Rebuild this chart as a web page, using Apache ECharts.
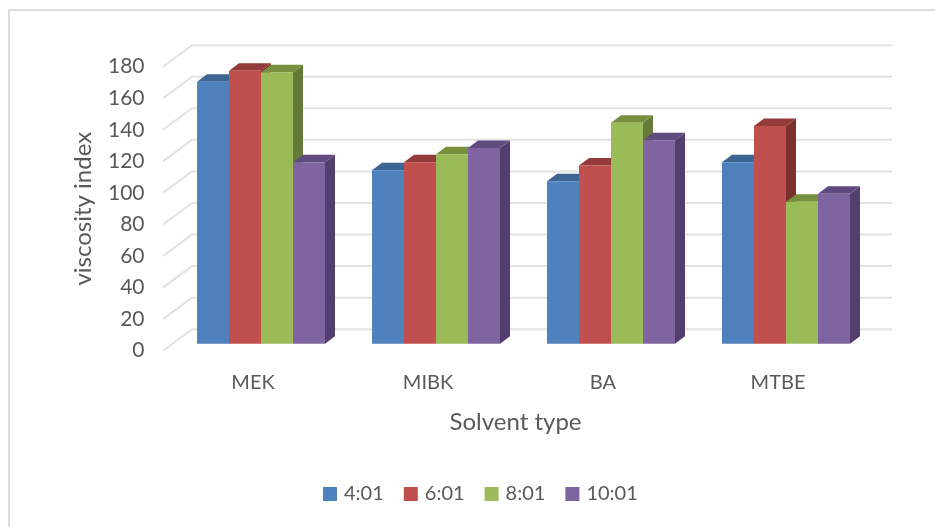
<!DOCTYPE html>
<html>
<head>
<meta charset="utf-8">
<style>html,body{margin:0;padding:0;background:#fff}#chart{width:935px;height:527px}</style>
<script src="https://cdn.jsdelivr.net/npm/echarts@6/dist/echarts.min.js"></script>
</head>
<body>
<div id="chart"></div>
<script>
// Viscosity index by solvent type and solvent-to-oil ratio
const solvents = ['MEK', 'MIBK', 'BA', 'MTBE'];
const ratioNames = ['4:01', '6:01', '8:01', '10:01'];
const ratio4 = [166, 110, 103, 115];
const ratio6 = [173, 115, 113, 138];
const ratio8 = [172, 120, 140, 90];
const ratio10 = [115, 124, 129, 95];
const yTicks = [0, 20, 40, 60, 80, 100, 120, 140, 160, 180];

const seriesValues = [ratio4, ratio6, ratio8, ratio10];
const faceColors = ['#4f81bd', '#c0504d', '#9bbb59', '#8064a2'];
const topColors = ['#3b6694', '#933b39', '#76903f', '#614a7f'];
const sideColors = ['#325680', '#7c2f2d', '#657a39', '#533f6d'];

// Pseudo-3D box: offsets from the front wall of the plot
const barShiftX = 8, barShiftY = -7;
const depthX = 10, depthY = -7.5;
const wallX = 26.5, wallY = -21.5, wallStart = -2.5;
const barFraction = 32 / 175;

function barRenderer(s) {
  return function (params, api) {
    const base = api.coord([api.value(0), 0]);
    const top = api.coord([api.value(0), api.value(1)]);
    const band = api.size([1, 0])[0];
    const w = band * barFraction;
    const x0 = base[0] - 2 * w + s * w + barShiftX;
    const x1 = x0 + w;
    const yb = base[1] + barShiftY;
    const yt = top[1] + barShiftY;
    const side = [[x1, yt], [x1 + depthX, yt + depthY], [x1 + depthX, yb + depthY], [x1, yb]];
    const cap = [[x0, yt], [x0 + depthX, yt + depthY], [x1 + depthX, yt + depthY], [x1, yt]];
    return {
      type: 'group',
      children: [
        { type: 'polygon', shape: { points: side }, style: { fill: sideColors[s] } },
        { type: 'polygon', shape: { points: cap }, style: { fill: topColors[s] } },
        { type: 'rect', shape: { x: x0, y: yt, width: w, height: yb - yt }, style: { fill: faceColors[s] } }
      ]
    };
  };
}

function wallRenderer(params, api) {
  const y = api.coord([0, api.value(1)])[1];
  const rect = params.coordSys;
  const left = rect.x + wallStart;
  const backLeft = rect.x + wallX;
  const backRight = backLeft + rect.width;
  return {
    type: 'polyline',
    shape: { points: [[left, y], [backLeft, y + wallY], [backRight, y + wallY]] },
    style: { fill: 'none', stroke: '#e2e2e2', lineWidth: 2 }
  };
}

const textColor = '#595959';
const fontFamily = 'Lato, "Open Sans", sans-serif';

const series = [{
  type: 'custom',
  silent: true,
  clip: false,
  renderItem: wallRenderer,
  encode: { x: 0, y: 1 },
  data: yTicks.map(v => [0, v]),
  z: 1
}];
seriesValues.forEach((values, s) => {
  series.push({
    type: 'custom',
    name: ratioNames[s],
    clip: false,
    renderItem: barRenderer(s),
    encode: { x: 0, y: 1 },
    itemStyle: { color: faceColors[s] },
    data: values.map((v, i) => [i, v]),
    z: 2 + s
  });
});

const chart = echarts.init(document.getElementById('chart'), null, { renderer: 'canvas' });
chart.setOption({
  animation: false,
  backgroundColor: '#fff',
  textStyle: { fontFamily },
  graphic: [{
    type: 'polyline',
    silent: true,
    shape: { points: [[9, 527], [9, 10], [935, 10]] },
    style: { fill: 'none', stroke: '#dcdcdc', lineWidth: 2 }
  }],
  grid: { left: 165.5, top: 66.7, width: 700, height: 284 },
  xAxis: {
    type: 'category',
    data: solvents,
    name: 'Solvent type',
    nameLocation: 'middle',
    nameGap: 60,
    nameTextStyle: { color: textColor, fontSize: 24, fontFamily },
    axisLine: { show: false },
    axisTick: { show: false },
    axisLabel: { color: textColor, fontSize: 20, margin: 22, fontFamily }
  },
  yAxis: {
    type: 'value',
    min: 0,
    max: 180,
    interval: 20,
    name: 'viscosity index',
    nameLocation: 'middle',
    nameGap: 70,
    nameTextStyle: { color: textColor, fontSize: 24, fontFamily },
    axisLine: { show: false },
    axisTick: { show: false },
    splitLine: { show: false },
    axisLabel: { color: textColor, fontSize: 21, margin: 21, fontFamily }
  },
  legend: {
    left: 323,
    top: 484,
    padding: 0,
    icon: 'rect',
    itemWidth: 14,
    itemHeight: 14,
    itemGap: 20,
    data: ratioNames,
    textStyle: { color: textColor, fontSize: 20, padding: [1, 0, 0, 2], fontFamily }
  },
  series
});
</script>
</body>
</html>
